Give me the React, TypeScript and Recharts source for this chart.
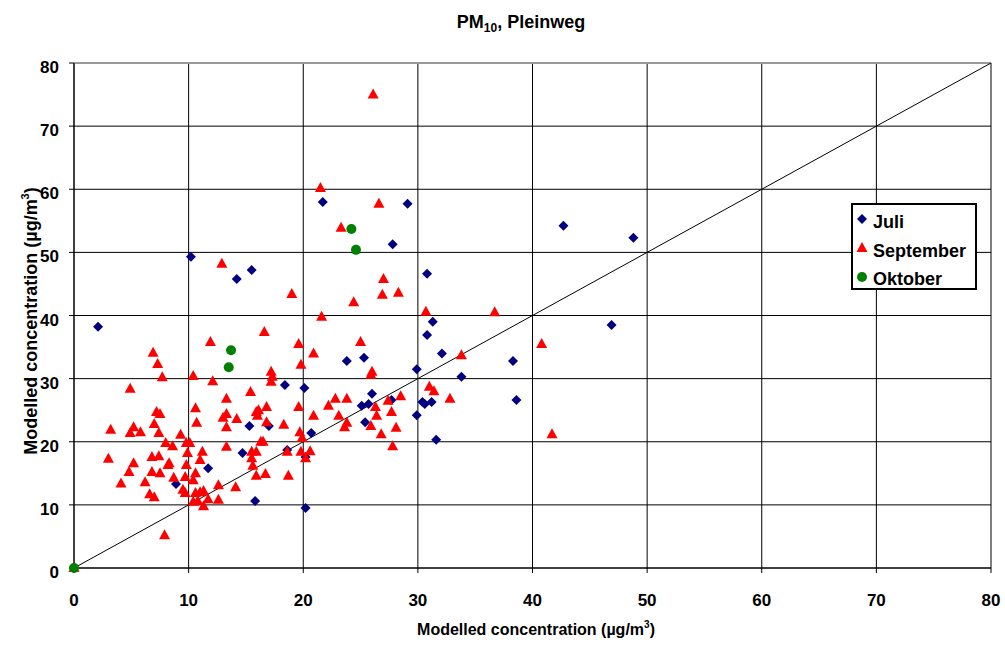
import React from "react";
import {
  ScatterChart,
  Scatter,
  XAxis,
  YAxis,
  CartesianGrid,
  ReferenceLine,
} from "recharts";

const TICKS = [0, 10, 20, 30, 40, 50, 60, 70, 80];

// [x, y] pairs
const juli: [number, number][] = [
  [2.1, 38.2], [10.2, 49.3], [14.2, 45.8], [15.5, 47.2], [21.7, 58.0],
  [29.1, 57.7], [27.8, 51.3], [42.7, 54.2], [48.8, 52.3], [30.8, 46.6],
  [31.3, 39.0], [30.8, 36.9], [32.1, 34.0], [46.9, 38.5], [38.3, 32.8],
  [23.8, 32.8], [25.3, 33.3], [29.9, 31.5], [33.8, 30.3], [20.1, 28.5],
  [26.0, 27.6], [25.1, 25.7], [25.7, 26.0], [27.7, 26.6], [25.4, 23.1],
  [30.4, 26.3], [30.6, 26.0], [31.2, 26.3], [29.9, 24.2], [38.6, 26.6],
  [31.6, 20.3], [20.7, 21.4], [20.2, 17.6], [18.4, 29.0], [15.3, 22.5],
  [17.0, 22.5], [18.6, 18.7], [14.7, 18.2], [11.7, 15.8], [8.9, 13.3],
  [15.8, 10.6], [20.2, 9.5], [0, 0],
];

const september: [number, number][] = [
  [26.1, 75.0], [21.5, 60.2], [26.6, 57.7], [23.3, 53.9], [12.9, 48.2],
  [19.0, 43.4], [27.0, 45.8], [28.3, 43.6], [26.9, 43.3], [24.4, 42.1],
  [30.7, 40.6], [36.7, 40.5], [21.6, 39.8], [25.0, 35.8], [40.8, 35.5],
  [33.8, 33.7], [26.0, 31.1], [25.9, 30.6], [31.0, 28.7], [31.4, 28.0],
  [32.8, 26.8], [28.5, 27.2], [27.4, 26.5], [26.3, 25.5], [27.7, 24.7],
  [26.4, 24.1], [25.9, 22.5], [28.1, 22.2], [26.8, 21.2], [27.8, 19.3],
  [23.8, 26.8], [22.8, 26.8], [22.2, 25.7], [23.1, 24.1], [23.8, 23.0],
  [23.6, 22.3], [41.7, 21.2],
  [16.6, 37.4], [11.9, 35.8], [19.6, 35.5], [20.9, 34.0], [6.9, 34.1],
  [7.3, 32.3], [7.7, 30.2], [10.4, 30.4], [12.1, 29.6], [4.9, 28.4],
  [17.2, 31.1], [17.3, 30.3], [17.2, 29.5], [19.8, 32.2], [15.4, 27.9],
  [13.3, 26.8], [10.6, 25.3], [7.2, 24.7], [7.5, 24.4], [19.6, 25.5],
  [20.9, 24.1], [15.9, 24.7], [16.1, 25.0], [16.8, 25.5], [16.0, 24.1],
  [13.3, 24.4], [13.0, 23.8], [14.2, 23.6], [13.3, 22.3], [10.7, 23.0],
  [16.8, 23.1], [18.3, 22.7], [7.0, 22.8], [3.2, 21.9], [4.9, 21.4],
  [5.2, 22.3], [5.8, 21.5], [7.4, 21.4], [9.3, 21.1], [8.0, 19.8],
  [8.6, 19.3], [9.8, 19.8], [10.1, 19.8], [9.9, 18.2], [11.2, 18.4],
  [13.3, 19.2], [11.0, 17.1], [15.5, 18.4], [15.9, 18.4], [16.3, 20.0],
  [16.5, 20.0], [15.5, 17.4], [15.6, 16.2], [15.9, 14.6], [16.7, 14.9],
  [18.7, 14.6], [19.8, 18.4], [20.2, 17.4], [20.6, 18.5], [18.6, 18.4],
  [19.7, 21.5], [19.9, 20.6], [14.1, 12.8], [12.6, 13.1], [12.6, 10.8],
  [11.7, 10.9], [10.4, 10.5], [10.8, 10.6], [11.3, 9.8], [11.0, 12.0],
  [10.6, 11.9], [11.3, 12.2], [9.7, 11.9], [9.5, 12.4], [10.6, 15.0],
  [9.7, 14.4], [9.8, 16.3], [10.4, 13.9], [8.7, 14.3], [7.5, 15.0],
  [8.3, 16.6], [8.2, 16.3], [6.8, 15.2], [6.8, 17.6], [7.4, 17.7],
  [5.2, 16.6], [4.8, 15.2], [3.0, 17.3], [6.2, 13.6], [4.1, 13.4],
  [6.6, 11.7], [7.0, 11.2], [7.9, 5.2], [0, 0],
];

const oktober: [number, number][] = [
  [0, 0], [13.7, 34.5], [13.5, 31.8], [24.2, 53.7], [24.6, 50.4],
];

const toPoints = (arr: [number, number][]) => arr.map(([x, y]) => ({ x, y }));

const NAVY = "#000080";
const RED = "#ff0000";
const GREEN = "#008000";
const font = "Arial, 'Liberation Sans', sans-serif";

const diamondPts = (x: number, y: number) => `${x},${y - 5} ${x + 5},${y} ${x},${y + 5} ${x - 5},${y}`;
const trianglePts = (x: number, y: number) => `${x},${y - 6} ${x + 5.5},${y + 4} ${x - 5.5},${y + 4}`;

const Diamond = (p: any) => <polygon points={diamondPts(p.cx, p.cy)} fill={NAVY} />;
const Triangle = (p: any) => <polygon points={trianglePts(p.cx, p.cy)} fill={RED} />;
const Dot = (p: any) => <circle cx={p.cx} cy={p.cy} r={5} fill={GREEN} />;

const XTick = (p: any) => (
  <text x={p.x} y={p.y + 33} textAnchor="middle" fontFamily={font} fontWeight="bold" fontSize={17} fill="#000">
    {p.payload.value}
  </text>
);
const YTick = (p: any) => (
  <text x={p.x - 10} y={p.y + 10} textAnchor="end" fontFamily={font} fontWeight="bold" fontSize={17} fill="#000">
    {p.payload.value}
  </text>
);

const Overlay = () => (
  <svg
    width={1005}
    height={646}
    style={{ position: "absolute", left: 0, top: 0, pointerEvents: "none" }}
    fontFamily={font}
    fontWeight="bold"
  >
    <text x={521} y={28} textAnchor="middle" fontSize={18}>
      PM<tspan fontSize={12} dy={4}>10</tspan>
      <tspan dy={-4}>, Pleinweg</tspan>
    </text>
    <text x={536} y={635} textAnchor="middle" fontSize={16}>
      Modelled concentration (µg/m<tspan fontSize={10} dy={-7}>3</tspan>
      <tspan dy={7}>)</tspan>
    </text>
    <text x={37} y={321} textAnchor="middle" fontSize={18} transform="rotate(-90 37 321)">
      Modelled concentration (µg/m<tspan fontSize={11} dy={-8}>3</tspan>
      <tspan dy={8}>)</tspan>
    </text>
    <g transform="translate(851,203)">
      <rect x={1} y={1} width={124} height={85} fill="#fff" stroke="#000" strokeWidth={2} />
      <polygon points={diamondPts(11, 16)} fill={NAVY} />
      <text x={22} y={25} fontSize={18}>Juli</text>
      <polygon points={trianglePts(11, 45)} fill={RED} />
      <text x={22} y={54} fontSize={18}>September</text>
      <circle cx={11} cy={74} r={5} fill={GREEN} />
      <text x={22} y={82} fontSize={18}>Oktober</text>
    </g>
  </svg>
);

export default function App() {
  return (
    <div style={{ position: "absolute", left: 0, top: 0, width: 1005, height: 646, background: "#fff" }}>
      <ScatterChart
        width={1005}
        height={646}
        margin={{ top: 63, right: 14, left: 0, bottom: 0 }}
        style={{ position: "absolute", left: 0, top: 0 }}
      >
        <CartesianGrid stroke="#000" strokeWidth={1} />
        <XAxis
          type="number"
          dataKey="x"
          domain={[0, 80]}
          ticks={TICKS}
          height={78}
          stroke="#000"
          tickSize={5}
          tickMargin={0}
          tick={XTick}
        />
        <YAxis
          type="number"
          dataKey="y"
          domain={[0, 80]}
          ticks={TICKS}
          width={74}
          stroke="#000"
          tickSize={5}
          tickMargin={0}
          tick={YTick}
        />
        <ReferenceLine y={80} stroke="#999" strokeWidth={2} />
        <ReferenceLine
          segment={[{ x: 0, y: 0 }, { x: 80, y: 80 }]}
          stroke="#000"
          strokeWidth={1}
          ifOverflow="visible"
        />
        <Scatter name="Juli" data={toPoints(juli)} shape={Diamond} isAnimationActive={false} />
        <Scatter name="September" data={toPoints(september)} shape={Triangle} isAnimationActive={false} />
        <Scatter name="Oktober" data={toPoints(oktober)} shape={Dot} isAnimationActive={false} />
      </ScatterChart>
      <Overlay />
    </div>
  );
}
